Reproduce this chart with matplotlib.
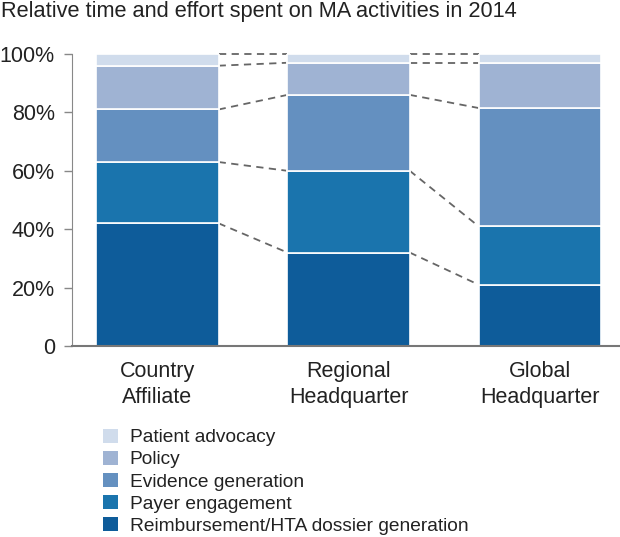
import matplotlib
matplotlib.use("Agg")
import matplotlib.pyplot as plt
from matplotlib.patches import Patch
import numpy as np

plt.rcParams['font.family'] = ['Liberation Sans', 'DejaVu Sans']

title = "Relative time and effort spent on MA activities in 2014"
categories = ["Country\nAffiliate", "Regional\nHeadquarter", "Global\nHeadquarter"]
series_names = ["Reimbursement/HTA dossier generation", "Payer engagement",
                "Evidence generation", "Policy", "Patient advocacy"]
reimbursement = [42, 32, 21]
payer = [21, 28, 20]
evidence = [18, 26, 40.5]
policy = [15, 11, 15.5]
patient = [4, 3, 3]
colors = ["#0e5c9a", "#1a74ad", "#6490c0", "#9fb3d3", "#d0dcec"]
yticks = [0, 20, 40, 60, 80, 100]
yticklabels = ["0", "20%", "40%", "60%", "80%", "100%"]

data = np.array([reimbursement, payer, evidence, policy, patient])

fig = plt.figure(figsize=(6.2, 5.37), dpi=100)
ax = fig.add_axes([71.5/620, 1-346/537, 1-71.5/620, (346-54)/537])

x = np.arange(len(categories))
width = 0.64
bottom = np.zeros(len(categories))
for i, name in enumerate(series_names):
    ax.bar(x, data[i], width, bottom=bottom, color=colors[i], label=name,
           edgecolor="white", linewidth=1.2, zorder=2)
    bottom = bottom + data[i]

# dashed connectors between matching segment boundaries
cum = np.cumsum(data, axis=0)
for j in range(len(categories) - 1):
    for k in range(cum.shape[0]):
        ax.plot([x[j] + width/2, x[j+1] - width/2], [cum[k, j], cum[k, j + 1]],
                ls=(0, (4, 3)), color="#666666", lw=1.3, clip_on=False, zorder=1)

ax.set_ylim(0, 100)
ax.set_xlim(-0.45, 2.42)
ax.set_yticks(yticks)
ax.set_yticklabels(yticklabels, fontsize=15.5, color="#222222")
ax.set_xticks(x)
ax.set_xticklabels(categories, fontsize=15.5, color="#222222", linespacing=1.3)
ax.tick_params(axis='x', length=0, pad=11)
ax.tick_params(axis='y', length=6, width=1, color="#888888", pad=6)
for s in ["top", "right"]:
    ax.spines[s].set_visible(False)
ax.spines["left"].set_color("#888888")
ax.spines["bottom"].set_color("#777777")
ax.spines["bottom"].set_linewidth(1.5)

fig.text(0.002, 1-12/537, title, fontsize=15.7, color="#222222", va="center", ha="left")

handles = [Patch(facecolor=colors[i], edgecolor="none") for i in range(len(colors))][::-1]
labels = series_names[::-1]
fig.legend(handles, labels, loc="upper left", bbox_to_anchor=(103/620, 1-428.5/537),
           frameon=False, fontsize=13.8, handlelength=0.78, handleheight=0.78,
           handletextpad=0.62, labelspacing=0.22, borderpad=0, borderaxespad=0,
           labelcolor="#222222")

fig.savefig("out.png", dpi=100)
